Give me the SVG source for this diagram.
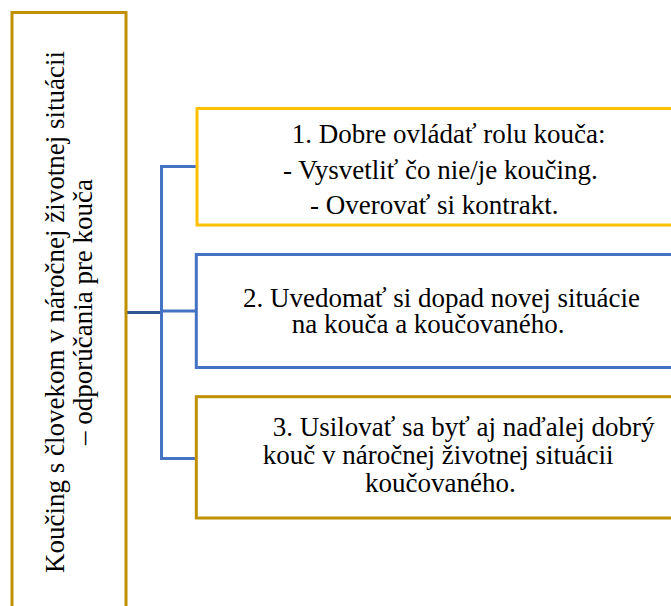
<svg xmlns="http://www.w3.org/2000/svg" width="671" height="606" viewBox="0 0 671 606">
<style>
  text { font-family: 'Times New Roman', 'Liberation Serif', Tinos, serif; font-size: 27px; fill: #000; }
  .box { fill: #fff; stroke-width: 3; }
  .gold { stroke: #BF9000; }
  .yellow { stroke: #FFC000; }
  .blue { stroke: #4472C4; }
  .conn { fill: none; stroke: #4472C4; stroke-width: 3; }
  .main { fill: none; stroke: #2F5597; stroke-width: 3; }
</style>
<rect width="671" height="606" fill="#fff"/>
<g id="connectors">
  <path class="main" d="M126 312.5 H162"/>
  <path class="conn" d="M161.5 166.5 V458.5"/>
  <path class="conn" d="M160 166.5 H197"/>
  <path class="conn" d="M160 311 H197"/>
  <path class="conn" d="M160 458.5 H197"/>
</g>
<g id="root">
  <rect class="box gold" x="12" y="12.5" width="114" height="620"/>
  <g transform="translate(63.5 312) rotate(-90)">
    <text x="0" y="0" text-anchor="middle">Koučing s človekom v náročnej životnej situácii</text>
  </g>
  <g transform="translate(91.5 312) rotate(-90)">
    <text x="0" y="0" text-anchor="middle">– odporúčania pre kouča</text>
  </g>
</g>
<g id="node1">
  <rect class="box yellow" x="197" y="108.5" width="500" height="116.5"/>
  <text x="291.7" y="143">1. Dobre ovládať rolu kouča:</text>
  <text x="283" y="178.5">- Vysvetliť čo nie/je koučing.</text>
  <text x="310" y="214">- Overovať si kontrakt.</text>
</g>
<g id="node2">
  <rect class="box blue" x="196.3" y="254.5" width="500" height="113"/>
  <text x="243" y="306.5">2. Uvedomať si dopad novej situácie</text>
  <text x="291.7" y="332.5">na kouča a koučovaného.</text>
</g>
<g id="node3">
  <rect class="box gold" x="196.3" y="396.7" width="500" height="121.3"/>
  <text x="272.7" y="435.7">3. Usilovať sa byť aj naďalej dobrý</text>
  <text x="262.7" y="464.3">kouč v náročnej životnej situácii</text>
  <text x="365" y="492.3">koučovaného.</text>
</g>
</svg>
